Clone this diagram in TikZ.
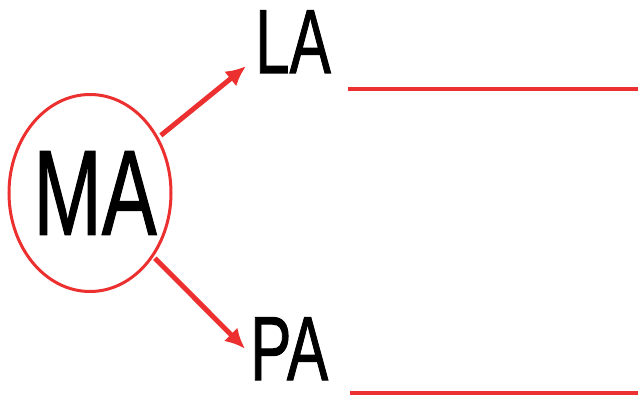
\documentclass[tikz,border=0pt]{standalone}
\usepackage{fontspec}
\setmainfont{Liberation Sans}
\newfontfamily\heavyfont[FakeBold=1.2]{Liberation Sans}
\usepackage{xcolor}
\usepackage{tikz}
\usetikzlibrary{calc}
\usetikzlibrary{arrows.meta}
\usetikzlibrary{shapes.geometric}
\definecolor{penred}{RGB}{236,48,48}
\tikzset{>=latex}
\tikzstyle{lbl} = [draw=none, inner sep = 0, font=\heavyfont\fontsize{91}{91}\selectfont]
\tikzstyle{link} = [-{Latex[length=20pt, width=19pt]}, line width=5pt, draw = penred]
\tikzstyle{blank} = [-, line width=4pt, draw = penred]

\begin{document}
\begin{tikzpicture}[x=1pt, y=-1pt]
\useasboundingbox (0,0) rectangle (638,401);
\node [ellipse, draw = penred, line width=3pt, inner sep = 0, minimum width=162pt, minimum height=197pt, font=\heavyfont\fontsize{121}{121}\selectfont] (MA) at (90, 193) {\makebox[0pt]{\hspace{10pt}\scalebox{0.68}[1]{MA}}};
\node [lbl, anchor=base west] (LA) at (255, 73) {\scalebox{0.68}[1]{LA}};
\node [lbl, anchor=base west] (PA) at (250, 380) {\scalebox{0.68}[1]{PA}};
%\node [draw=none] at (0,0) {};
\draw [link, shorten <=3pt] (MA) to ([xshift=-9pt, yshift=7pt]LA.south west);
\draw [link, shorten <=2pt] (MA) to ([xshift=-5pt]PA.west);
\coordinate (LAend) at (638, 89);
\coordinate (PAend) at (638, 393);
\draw [blank] (348, 89) to (LAend);
\draw [blank] (350, 393) to (PAend);
\end{tikzpicture}
\end{document}
